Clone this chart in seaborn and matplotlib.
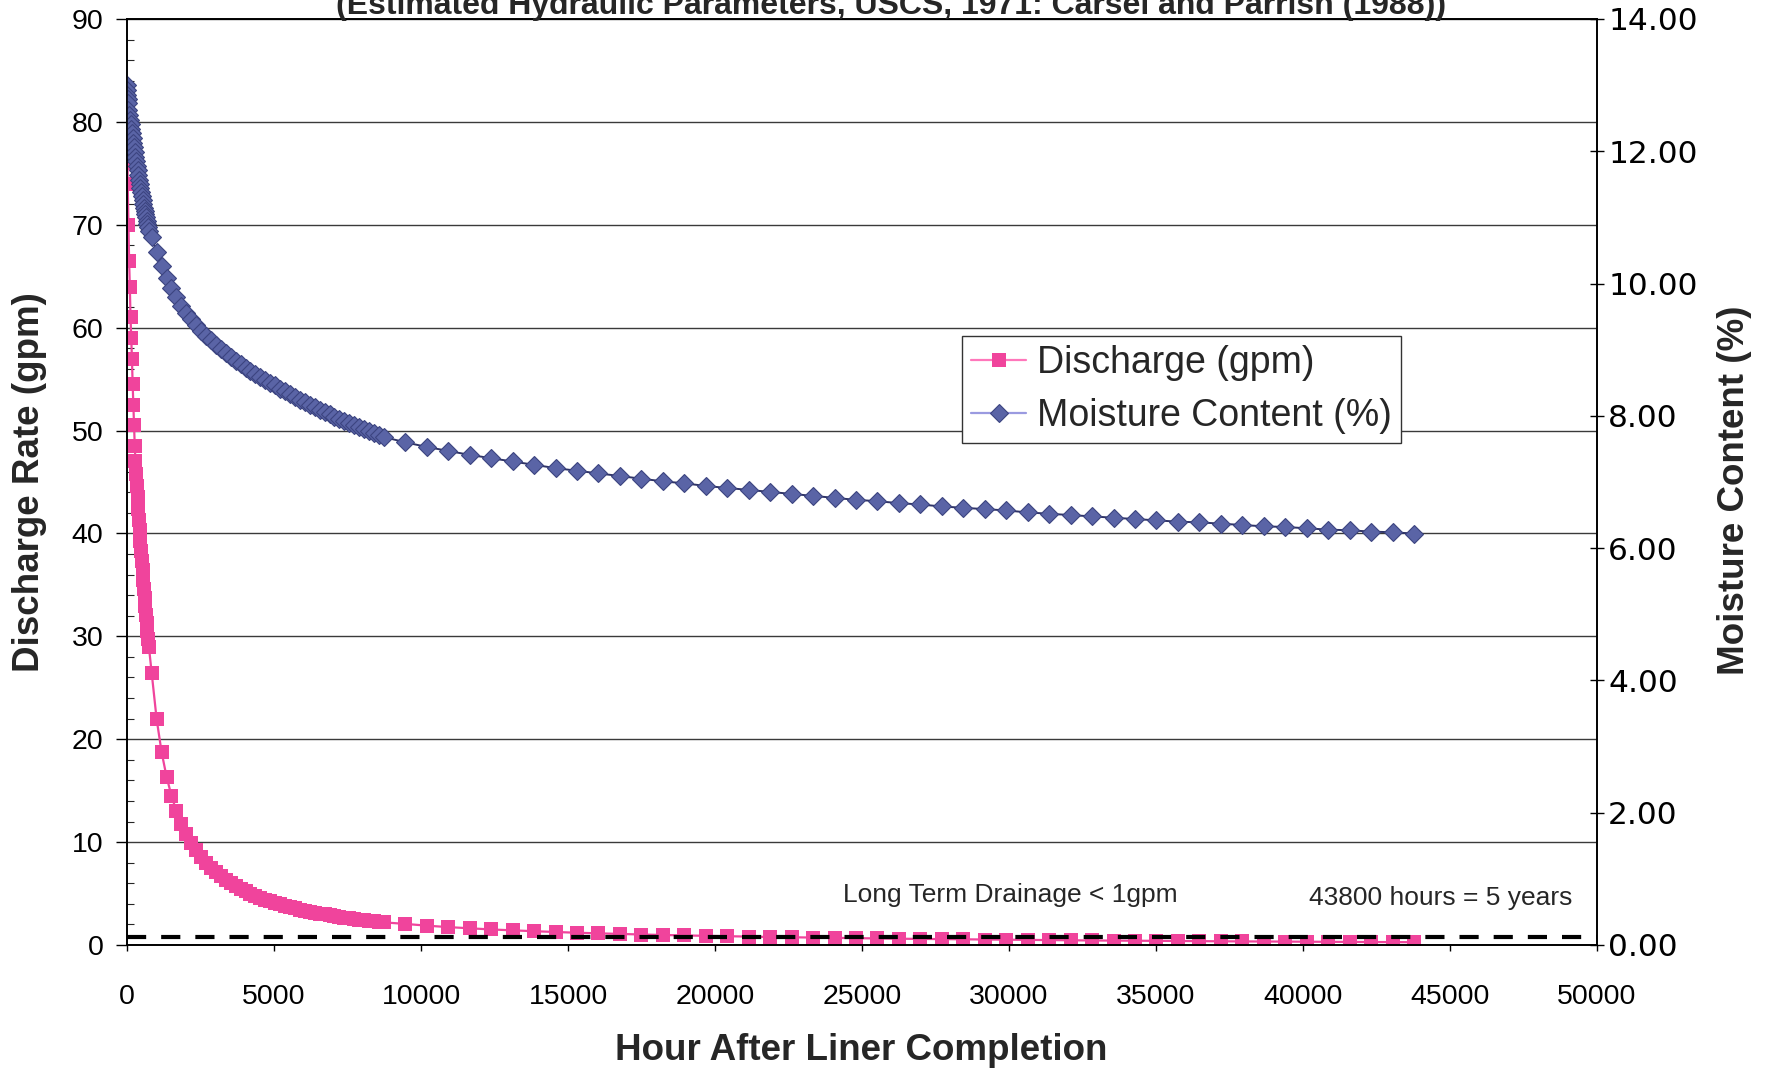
import matplotlib
matplotlib.use("Agg")
import matplotlib.pyplot as plt
import seaborn as sns
import pandas as pd
from matplotlib import font_manager
from matplotlib.ticker import MultipleLocator, FuncFormatter
from matplotlib.lines import Line2D

# ---------------- data ----------------
hours_daily = [0, 6, 12, 18, 24, 48, 72, 96, 120, 144, 168, 192, 216, 240, 264,
               288, 312, 336, 360, 384, 408, 432, 456, 480, 504, 528, 552, 576,
               600, 624, 648, 672, 696, 720, 744]
hours_weekly = [840, 1008, 1176, 1344, 1512, 1680, 1848, 2016, 2184, 2352, 2520,
                2688, 2856, 3024, 3192, 3360, 3528, 3696, 3864, 4032, 4200, 4368,
                4536, 4704, 4872, 5040, 5208, 5376, 5544, 5712, 5880, 6048, 6216,
                6384, 6552, 6720, 6888, 7056, 7224, 7392, 7560, 7728, 7896, 8064,
                8232, 8400, 8568, 8736]
hours_monthly = [9466, 10196, 10926, 11656, 12386, 13116, 13846, 14576, 15306,
                 16036, 16766, 17496, 18226, 18956, 19686, 20416, 21146, 21876,
                 22606, 23336, 24066, 24796, 25526, 26256, 26986, 27716, 28446,
                 29176, 29906, 30636, 31366, 32096, 32826, 33556, 34286, 35016,
                 35746, 36476, 37206, 37936, 38666, 39396, 40126, 40856, 41586,
                 42316, 43046, 43776]

discharge_daily = [83.0, 80.5, 78.0, 76.0, 74.0, 70.0, 66.5, 64.0, 61.0, 59.0,
                   57.0, 54.5, 52.5, 50.5, 48.5, 47.0, 45.8, 44.6, 43.5, 42.4,
                   41.3, 40.3, 39.3, 38.3, 37.3, 36.4, 35.5, 34.6, 33.7, 32.9,
                   32.1, 31.3, 30.5, 29.7, 29.0]
discharge_weekly = [26.4, 21.95, 18.76, 16.37, 14.51, 13.02, 11.80, 10.79, 9.93,
                    9.19, 8.55, 8.00, 7.50, 7.07, 6.67, 6.32, 6.00, 5.71, 5.45,
                    5.21, 4.98, 4.78, 4.59, 4.41, 4.24, 4.09, 3.95, 3.81, 3.68,
                    3.56, 3.45, 3.35, 3.24, 3.15, 3.06, 2.97, 2.89, 2.81, 2.74,
                    2.67, 2.60, 2.54, 2.47, 2.42, 2.36, 2.30, 2.25, 2.20]
discharge_monthly = [2.05, 1.88, 1.74, 1.62, 1.51, 1.42, 1.34, 1.26, 1.19, 1.13,
                     1.07, 1.02, 0.97, 0.93, 0.89, 0.85, 0.81, 0.78, 0.75, 0.72,
                     0.69, 0.66, 0.64, 0.61, 0.59, 0.57, 0.55, 0.53, 0.51, 0.49,
                     0.47, 0.46, 0.44, 0.43, 0.41, 0.40, 0.39, 0.37, 0.36, 0.35,
                     0.34, 0.33, 0.32, 0.31, 0.30, 0.29, 0.28, 0.27]

moisture_daily = [13.00, 12.92, 12.85, 12.79, 12.73, 12.62, 12.55, 12.48, 12.41,
                  12.34, 12.27, 12.20, 12.13, 12.06, 11.99, 11.92, 11.85, 11.78,
                  11.71, 11.64, 11.57, 11.51, 11.45, 11.39, 11.33, 11.27, 11.21,
                  11.15, 11.10, 11.05, 11.00, 10.95, 10.90, 10.85, 10.80]
moisture_weekly = [10.70, 10.47, 10.27, 10.09, 9.93, 9.79, 9.66, 9.56, 9.46, 9.37,
                   9.29, 9.21, 9.14, 9.07, 9.01, 8.95, 8.89, 8.83, 8.78, 8.73,
                   8.68, 8.63, 8.59, 8.54, 8.50, 8.46, 8.41, 8.37, 8.33, 8.29,
                   8.24, 8.21, 8.17, 8.14, 8.09, 8.06, 8.03, 7.99, 7.96, 7.92,
                   7.89, 7.86, 7.83, 7.80, 7.77, 7.74, 7.71, 7.68]
moisture_monthly = [7.60, 7.53, 7.47, 7.41, 7.36, 7.31, 7.26, 7.21, 7.17, 7.13,
                    7.09, 7.05, 7.01, 6.98, 6.94, 6.91, 6.88, 6.85, 6.82, 6.79,
                    6.76, 6.73, 6.71, 6.68, 6.66, 6.63, 6.61, 6.59, 6.57, 6.54,
                    6.52, 6.50, 6.48, 6.46, 6.44, 6.42, 6.40, 6.39, 6.37, 6.35,
                    6.33, 6.32, 6.30, 6.28, 6.27, 6.25, 6.24, 6.22]

drainage_threshold = 0.75  # dashed "long term drainage" reference (gpm)

title = "(Estimated Hydraulic Parameters, USCS, 1971: Carsel and Parrish (1988))"
xlabel = "Hour After Liner Completion"
ylabel_left = "Discharge Rate (gpm)"
ylabel_right = "Moisture Content (%)"
label_discharge = "Discharge (gpm)"
label_moisture = "Moisture Content (%)"
note_left = "Long Term Drainage < 1gpm"
note_right = "43800 hours = 5 years"
note_left_pos = (30050, 4.9)
note_right_pos = (44700, 4.6)

df = pd.DataFrame({
    "hour": hours_daily + hours_weekly + hours_monthly,
    "discharge": discharge_daily + discharge_weekly + discharge_monthly,
    "moisture": moisture_daily + moisture_weekly + moisture_monthly,
})

# ---------------- style ----------------
sns.set_style("white")
available = {f.name for f in font_manager.fontManager.ttflist}
main_font = "Liberation Sans" if "Liberation Sans" in available else "DejaVu Sans"
narrow_font = "Liberation Sans Narrow" if "Liberation Sans Narrow" in available else main_font
plt.rcParams["font.family"] = [main_font, "DejaVu Sans"]

PINK = "#f0449c"
BLUE = "#5a64a6"
BLUE_EDGE = "#3c4480"
BLUE_LINE = "#2e3366"

W, H = 1769, 1073
fig = plt.figure(figsize=(W / 100, H / 100), dpi=100)
fig.patch.set_facecolor("white")
ax = fig.add_axes([127 / W, 1 - 945 / H, 1470 / W, 926 / H])
ax2 = ax.twinx()

# discharge (left axis)
sns.lineplot(data=df, x="hour", y="discharge", ax=ax, color=PINK, lw=1.6,
             marker="s", markersize=10.5, markeredgewidth=0, markerfacecolor=PINK,
             legend=False, zorder=2)
ax.axhline(drainage_threshold, color="black", lw=3.0, dashes=(4.6, 3.6), zorder=3)

# moisture (right axis)
sns.lineplot(data=df, x="hour", y="moisture", ax=ax2, color=BLUE_LINE, lw=1.4,
             marker="D", markersize=9.5, markeredgewidth=0.8,
             markerfacecolor=BLUE, markeredgecolor=BLUE_EDGE,
             legend=False, zorder=2)

# axes limits / ticks
ax.set_xlim(0, 50000)
ax.set_ylim(0, 90)
ax2.set_ylim(0, 14)
ax.xaxis.set_major_locator(MultipleLocator(5000))
ax.yaxis.set_major_locator(MultipleLocator(10))
ax.yaxis.set_minor_locator(MultipleLocator(2))
ax2.yaxis.set_major_locator(MultipleLocator(2))
ax2.yaxis.set_major_formatter(FuncFormatter(lambda v, p: f"{v:.2f}"))
ax.set_xlabel("")
ax.set_ylabel("")
ax2.set_ylabel("")

ax.tick_params(axis="y", which="major", direction="out", length=8, width=1,
               labelsize=20.5, pad=9, colors="black")
ax.tick_params(axis="y", which="minor", direction="in", length=5, width=0.8, left=True)
ax.tick_params(axis="x", which="major", direction="out", length=4, width=1,
               labelsize=20.5, pad=24, colors="black", bottom=True)
ax2.tick_params(axis="y", which="major", direction="inout", length=10, width=1,
                labelsize=22.5, pad=3, colors="black", right=True,
                labelfontfamily="DejaVu Sans")

ax.grid(axis="y", which="major", color="#3a3a3a", lw=1.0)
ax.grid(axis="x", visible=False)
ax2.grid(False)
for a in (ax, ax2):
    for s in a.spines.values():
        s.set_color("black")
        s.set_linewidth(1.2)
        s.set_visible(True)

# annotations
ax.text(*note_left_pos, note_left, ha="center", va="center", fontsize=19)
ax.text(*note_right_pos, note_right, ha="center", va="center", fontsize=19)

# labels
fig.text(891 / W, 1 - 14 / H, title, ha="center", va="baseline",
         fontsize=23, fontweight="bold", family=[narrow_font, "DejaVu Sans"])
fig.text(30 / W, 1 - 482 / H, ylabel_left, rotation=90, ha="center", va="center",
         fontsize=26.5, fontweight="bold")
fig.text(1734 / W, 1 - 490 / H, ylabel_right, rotation=90, ha="center", va="center",
         fontsize=26.5, fontweight="bold", family=[narrow_font, "DejaVu Sans"])
fig.text(861 / W, 1 - 1051 / H, xlabel, ha="center", va="center",
         fontsize=26.5, fontweight="bold")

# legend
handles = [
    Line2D([], [], color="#ff77bb", lw=1.6, marker="s", markersize=10.5,
           markeredgewidth=0, markerfacecolor=PINK),
    Line2D([], [], color="#9a9ae0", lw=1.6, marker="D", markersize=9.5,
           markeredgewidth=0.8, markerfacecolor=BLUE, markeredgecolor=BLUE_EDGE),
]
leg = ax2.legend(handles, [label_discharge, label_moisture], loc="upper left",
                 bbox_to_anchor=(0.568, 0.658), borderaxespad=0, fontsize=27,
                 frameon=True, fancybox=False, framealpha=1, edgecolor="#333333",
                 borderpad=0.25, labelspacing=0.45, handlelength=1.45,
                 handletextpad=0.3)
leg.get_frame().set_linewidth(1.0)
leg.set_zorder(10)

fig.savefig("out.png", dpi=100, facecolor="white")
